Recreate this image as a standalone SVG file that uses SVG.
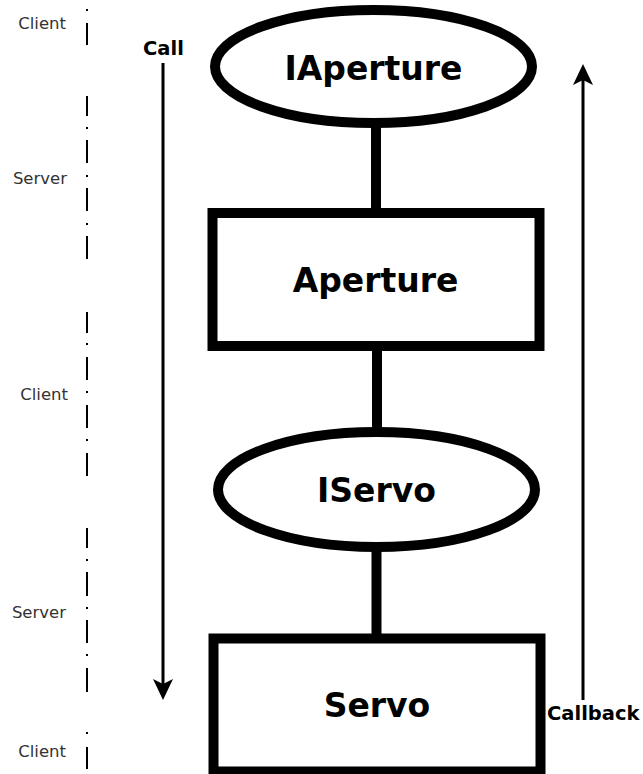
<svg xmlns="http://www.w3.org/2000/svg" width="643" height="774" viewBox="0 0 643 774">
  <style>
    .shape { fill: #ffffff; stroke: #000000; stroke-width: 10; }
    .link { stroke: #000000; stroke-width: 10; fill: none; }
    .flow { stroke: #000000; stroke-width: 3; fill: none; }
    .divider { stroke: #000000; stroke-width: 2; fill: none; }
    .node-label { font-family: "DejaVu Sans", "Liberation Sans", sans-serif; font-weight: bold; font-size: 33px; fill: #000000; text-anchor: middle; }
    .flow-label { font-family: "DejaVu Sans", "Liberation Sans", sans-serif; font-weight: bold; font-size: 19.5px; fill: #000000; }
    .side-label { font-family: "DejaVu Sans", "Liberation Sans", sans-serif; font-size: 16.5px; fill: #333333; text-anchor: end; }
  </style>
  <defs>
    <!-- notched arrowhead; the line attaches at the notch -->
    <marker id="head" viewBox="0 0 21 20" refX="5" refY="10" markerWidth="21" markerHeight="20" markerUnits="userSpaceOnUse" orient="auto">
      <path d="M21 10 L0 0 L5 10 L0 20 Z" fill="#000000"/>
    </marker>
  </defs>
  <rect width="643" height="774" fill="#ffffff"/>

  <!-- client / server boundary ticks -->
  <g id="tier-divider">
    <path class="divider" d="M87 9V11M87 23V45
      M87 96V116M87 127V129M87 140V163M87 175V177M87 188V211M87 223V225M87 236V259
      M87 312V333M87 343V345M87 357V380M87 391V393M87 405V428M87 439V441M87 453V476
      M87 528V548M87 559V561M87 572V596M87 607V609M87 620V643M87 654V656M87 668V692
      M87 732V734M87 747V769"/>
  </g>
  <g id="tier-labels">
    <text class="side-label" x="66" y="29">Client</text>
    <text class="side-label" x="67" y="184">Server</text>
    <text class="side-label" x="68" y="400">Client</text>
    <text class="side-label" x="66" y="618">Server</text>
    <text class="side-label" x="66" y="757">Client</text>
  </g>

  <!-- connectors between the nodes -->
  <g id="connectors">
    <line class="link" x1="376" y1="126" x2="376" y2="210"/>
    <line class="link" x1="377" y1="349" x2="377" y2="429"/>
    <line class="link" x1="376.5" y1="550" x2="376.5" y2="636"/>
  </g>

  <g id="node-iaperture">
    <ellipse class="shape" cx="373.5" cy="66.5" rx="158.5" ry="56.5"/>
    <text class="node-label" x="373.5" y="80">IAperture</text>
  </g>
  <g id="node-aperture">
    <rect class="shape" x="212.5" y="213" width="327" height="133"/>
    <text class="node-label" x="375.5" y="292">Aperture</text>
  </g>
  <g id="node-iservo">
    <ellipse class="shape" cx="376.5" cy="489.5" rx="158.5" ry="57.5"/>
    <text class="node-label" x="376.5" y="502">IServo</text>
  </g>
  <g id="node-servo">
    <rect class="shape" x="213.5" y="638.5" width="327" height="133"/>
    <text class="node-label" x="377" y="717">Servo</text>
  </g>

  <!-- call and callback directions -->
  <g id="call-flow">
    <line class="flow" x1="163" y1="63" x2="163" y2="684" marker-end="url(#head)"/>
    <text class="flow-label" x="143" y="55">Call</text>
  </g>
  <g id="callback-flow">
    <line class="flow" x1="583" y1="700" x2="583" y2="80" marker-end="url(#head)"/>
    <text class="flow-label" x="547" y="720">Callback</text>
  </g>
</svg>
